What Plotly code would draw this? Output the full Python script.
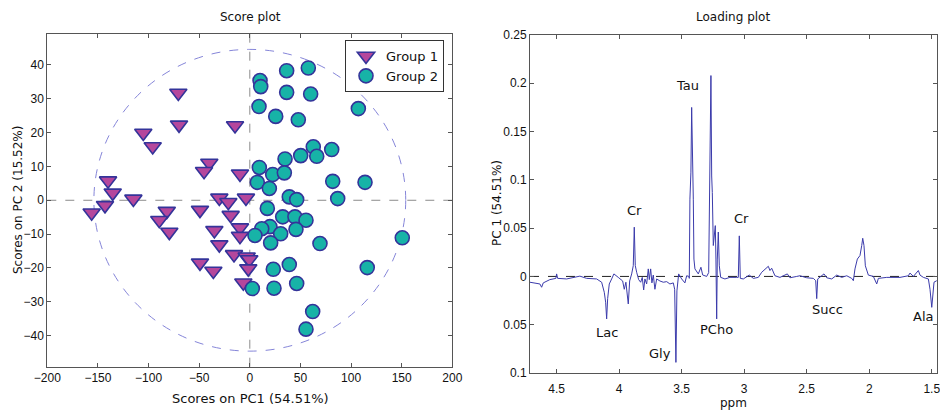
import plotly.graph_objects as go

# ---------------- Score plot data ----------------
g1_x = [-70.6, -69.9, -105.2, -95.9, -14.6, -40.0, -45.2, -9.7, -140.0, -135.4, -115.0,
        -143.0, -156.2, -82.0, -89.4, -79.5, -49.2, -30.1, -21.2, -3.8, -18.9, -35.0,
        -9.7, -9.7, -30.1, -15.6, -3.1, -0.5, -1.5, -49.2, -36.0, -6.4]
g1_y = [31.7, 22.3, 19.9, 15.9, 22.1, 11.0, 8.6, 7.8, 5.8, 2.2, 0.4,
        -1.5, -3.7, -3.2, -5.9, -9.4, -2.9, 0.7, -0.6, 0.7, -4.4, -8.9,
        -8.1, -10.6, -13.1, -16.0, -16.7, -17.5, -20.2, -18.5, -20.9, -24.4]

g2_x = [10.1, 10.8, 36.4, 57.8, 36.4, 60.1, 9.1, 107.2, 25.6, 47.9, 62.7, 80.9,
        50.3, 66.1, 34.8, 9.4, 22.6, 34.1, 7.4, 19.3, 81.9, 113.8, 39.0, 46.3,
        86.8, 17.3, 32.5, 44.6, 55.5, 19.9, 11.8, 45.6, 5.1, 30.5, 20.6, 69.3,
        150.6, 39.0, 23.2, 116.0, 46.3, 2.5, 23.9, 62.1, 55.5]
g2_y = [35.4, 33.6, 38.3, 39.1, 31.9, 31.4, 27.7, 27.1, 24.8, 23.8, 15.8, 15.0,
        13.2, 13.0, 12.2, 9.7, 7.6, 8.1, 5.3, 3.5, 5.6, 5.3, 1.0, 0.2,
        0.5, -2.4, -4.9, -4.9, -5.9, -7.8, -8.4, -8.6, -10.4, -9.9, -12.6, -12.8,
        -11.1, -19.0, -20.4, -19.9, -24.6, -26.1, -26.0, -32.9, -38.1]

ellipse_rx = 154.0
ellipse_ry = 44.6

score_xticks = [-200, -150, -100, -50, 0, 50, 100, 150, 200]
score_yticks = [-40, -30, -20, -10, 0, 10, 20, 30, 40]

# ---------------- Loading plot data ----------------
ppm = [4.714, 4.66, 4.634, 4.62, 4.607, 4.554, 4.506, 4.5, 4.492, 4.42, 4.34, 4.314,
       4.26, 4.18, 4.14, 4.119, 4.108, 4.1, 4.092, 4.079, 4.06, 4.042, 4.007, 3.972,
       3.959, 3.946, 3.927, 3.916, 3.9, 3.887, 3.879, 3.871, 3.86, 3.844, 3.828, 3.815,
       3.804, 3.794, 3.78, 3.767, 3.759, 3.748, 3.738, 3.727, 3.714, 3.7, 3.674, 3.647,
       3.62, 3.594, 3.567, 3.556, 3.546, 3.538, 3.524, 3.5, 3.474, 3.46, 3.442, 3.439,
       3.434, 3.426, 3.42, 3.415, 3.407, 3.402, 3.394, 3.367, 3.346, 3.332, 3.3, 3.284,
       3.276, 3.266, 3.26, 3.255, 3.247, 3.239, 3.231, 3.226, 3.22, 3.215, 3.207, 3.199,
       3.188, 3.154, 3.114, 3.06, 3.047, 3.039, 3.031, 3.007, 2.959, 2.927, 2.887, 2.86,
       2.834, 2.807, 2.794, 2.78, 2.754, 2.714, 2.655, 2.634, 2.58, 2.554, 2.5, 2.447,
       2.428, 2.42, 2.412, 2.388, 2.362, 2.34, 2.3, 2.26, 2.22, 2.18, 2.14, 2.127,
       2.114, 2.095, 2.074, 2.06, 2.052, 2.042, 2.031, 2.007, 1.967, 1.94, 1.927, 1.86,
       1.754, 1.687, 1.674, 1.647, 1.607, 1.594, 1.567, 1.527, 1.514, 1.5, 1.492, 1.482,
       1.46]
loading = [-0.006, -0.0067, -0.0078, -0.0112, -0.0067, -0.0033, -0.002, 0.0026, -0.002,
           -0.0026, -0.001, 0.0003, -0.002, -0.0026, -0.006, -0.0164, -0.0267, -0.044,
           -0.023, -0.0078, -0.0026, 0.0026, -0.001, -0.0047, -0.0133, -0.006, -0.0285,
           -0.0047, 0.0026, 0.0112, 0.051, 0.0112, 0.0043, -0.0033, -0.006, -0.001,
           -0.014, -0.0026, -0.0078, 0.0078, -0.0033, 0.0078, -0.0067, 0.0014, -0.0133,
           -0.0026, -0.0047, -0.006, -0.0054, -0.0078, -0.0067, -0.0133, -0.089, -0.015,
           0.0026, -0.0026, -0.0067, 0.0007, 0.0, -0.002, 0.080, 0.108, 0.175, 0.108,
           0.080, 0.018, 0.0078, 0.0026, 0.0095, 0.0015, 0.0, 0.004, 0.104, 0.208,
           0.104, 0.087, 0.032, 0.048, 0.0526, 0.018, -0.044, 0.018, 0.046, 0.011,
           -0.001, -0.0026, -0.001, -0.001, -0.001, 0.042, -0.002, -0.0026, 0.0014,
           -0.002, -0.001, 0.0043, 0.0078, 0.0105, 0.0061, 0.0085, 0.0007, -0.001,
           0.0026, -0.0014, 0.0, 0.0007, -0.0014, -0.002, -0.0044, -0.023, -0.0026,
           0.0, 0.0026, -0.0014, -0.0026, 0.0014, -0.001, 0.0007, -0.002, -0.0044,
           0.0078, 0.018, 0.0216, 0.032, 0.0395, 0.032, 0.011, 0.0014, 0.0, -0.0078,
           -0.002, -0.001, -0.001, 0.0007, 0.0035, 0.0, 0.0061, 0.0014, -0.001, -0.0026,
           -0.0133, -0.032, -0.020, -0.006, -0.0044]

peak_labels = ["Cr", "Tau", "Cr", "Lac", "Gly", "PCho", "Succ", "Ala"]
peak_ppm = [3.88, 3.45, 3.025, 4.10, 3.67, 3.22, 2.33, 1.57]
peak_val = [0.068, 0.198, 0.060, -0.058, -0.080, -0.055, -0.034, -0.041]

load_xticks = [4.5, 4, 3.5, 3, 2.5, 2, 1.5]
load_yticks = [-0.1, -0.05, 0, 0.05, 0.1, 0.15, 0.2, 0.25]
load_yticktext = ["0.1", "0.05", "0", "0.05", "0.1", "0.15", "0.2", "0.25"]

# ---------------- Figure ----------------
W, H = 940, 410
NAVY = "#34349a"
AXC = "#555555"
TICKFONT = dict(family="Liberation Sans, Arial, sans-serif", size=12, color="#111")
TXTFONT = dict(family="DejaVu Sans, Verdana, sans-serif", size=12, color="#111")

fig = go.Figure()

fig.add_trace(go.Scatter(
    x=g1_x, y=g1_y, mode="markers", name="Group 1",
    marker=dict(symbol="triangle-down", size=15, color="#b5479c",
                line=dict(color=NAVY, width=1.6)),
    xaxis="x", yaxis="y"))
fig.add_trace(go.Scatter(
    x=g2_x, y=g2_y, mode="markers", name="Group 2",
    marker=dict(symbol="circle", size=14, color="#17b3a7",
                line=dict(color=NAVY, width=1.6)),
    xaxis="x", yaxis="y"))

fig.add_trace(go.Scatter(
    x=ppm, y=loading, mode="lines", showlegend=False,
    line=dict(color="#3b3bab", width=1),
    xaxis="x2", yaxis="y2"))

common = dict(showline=True, linecolor=AXC, linewidth=1, mirror="ticks",
              ticks="inside", ticklen=4, tickcolor=AXC, showgrid=False,
              zeroline=False, tickfont=TICKFONT, automargin=False,
              ticklabeloverflow="allow")

fig.update_layout(
    width=W, height=H,
    margin=dict(l=0, r=0, t=0, b=0, pad=0, autoexpand=False),
    paper_bgcolor="white", plot_bgcolor="white",
    xaxis=dict(domain=[47.3 / W, 452.3 / W], range=[-200, 200],
               tickvals=score_xticks, anchor="y", **common),
    yaxis=dict(domain=[43.3 / H, 1 - 33.5 / H], range=[-49.2, 49.3],
               tickvals=score_yticks, anchor="x", **common),
    xaxis2=dict(domain=[530 / W, 937 / W], range=[4.713, 1.458],
                tickvals=load_xticks, ticktext=[str(v) for v in load_xticks],
                anchor="y2", ticklabelstandoff=5, **common),
    yaxis2=dict(domain=[37 / H, 1 - 35 / H], range=[-0.1, 0.25],
                tickvals=load_yticks, ticktext=load_yticktext, anchor="x2", **common),
    legend=dict(x=444 / W, y=1 - 40 / H, xanchor="right", yanchor="top",
                bgcolor="white", bordercolor="#333", borderwidth=1,
                font=dict(family="DejaVu Sans, Verdana, sans-serif", size=13, color="#111"),
                itemsizing="trace", tracegroupgap=0),
    showlegend=True,
)

# dashed reference lines & ellipse
fig.add_shape(type="line", xref="x", yref="y domain", x0=0, x1=0, y0=0, y1=1,
              line=dict(color="#8c8c8c", width=1, dash="dash"), layer="below")
fig.add_shape(type="line", xref="x domain", yref="y", x0=0, x1=1, y0=0, y1=0,
              line=dict(color="#8c8c8c", width=1, dash="dash"), layer="below")
fig.add_shape(type="circle", xref="x", yref="y",
              x0=-ellipse_rx, x1=ellipse_rx, y0=-ellipse_ry, y1=ellipse_ry,
              line=dict(color="#8585d8", width=1, dash="dash"), layer="below")
fig.add_shape(type="line", xref="x2 domain", yref="y2", x0=0, x1=1, y0=0, y1=0,
              line=dict(color="#222", width=1, dash="dash"), layer="below")

# peak labels
for lab, px_, pv in zip(peak_labels, peak_ppm, peak_val):
    fig.add_annotation(x=px_, y=pv, xref="x2", yref="y2", text=lab, showarrow=False,
                       xanchor="center", yanchor="middle",
                       font=dict(family="DejaVu Sans, Verdana, sans-serif", size=13, color="#111"))


def paper_text(px_, py_, text, angle=0, font=TXTFONT):
    fig.add_annotation(x=px_ / W, y=1 - py_ / H, xref="paper", yref="paper", text=text,
                       showarrow=False, textangle=angle, xanchor="center",
                       yanchor="middle", font=font)


paper_text(250, 17, "Score plot")
paper_text(733, 17, "Loading plot")
paper_text(250, 398, "Scores on PC1 (54.51%)",
           font=dict(family="DejaVu Sans, Verdana, sans-serif", size=13, color="#111"))
paper_text(733, 403, "ppm")
paper_text(18, 200, "Scores on PC 2 (15.52%)", angle=-90)
paper_text(497, 203, "PC 1 (54.51%)", angle=-90)

fig.write_html("out.html")
